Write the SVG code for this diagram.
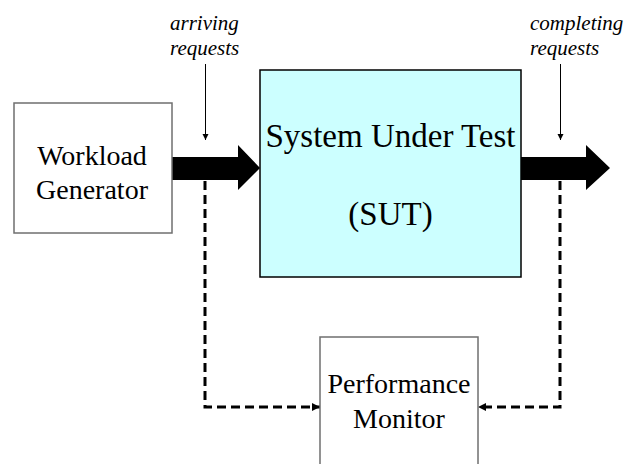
<svg xmlns="http://www.w3.org/2000/svg" width="637" height="464" viewBox="0 0 637 464">
  <style>
    .box { fill: #ffffff; stroke: #6f6f6f; stroke-width: 1.5; }
    .sut { fill: #ccffff; stroke: #000000; stroke-width: 1.5; }
    .label { font-family: "Liberation Serif", "Times New Roman", serif; fill: #000000; }
    .big { font-size: 28px; text-anchor: middle; }
    .huge { font-size: 33px; text-anchor: middle; }
    .note { font-size: 21px; font-style: italic; }
    .thin { stroke: #000000; stroke-width: 1; fill: none; }
    .dash { stroke: #000000; stroke-width: 3; fill: none; stroke-dasharray: 9 5; }
    .flow { fill: #000000; }
  </style>
  <defs>
    <marker id="tip" viewBox="0 0 10 10" refX="10" refY="5" markerWidth="6" markerHeight="8" markerUnits="userSpaceOnUse" orient="auto">
      <path d="M0,0 L10,5 L0,10 Z" fill="#000000"/>
    </marker>
    <marker id="dtip" viewBox="0 0 10 10" refX="10" refY="5" markerWidth="9" markerHeight="8" markerUnits="userSpaceOnUse" orient="auto">
      <path d="M0,0 L10,5 L0,10 Z" fill="#000000"/>
    </marker>
  </defs>

  <g id="connectors">
    <!-- request flow into and out of the system -->
    <polygon class="flow" points="172,157 238,157 238,145 260,168 238,190 238,180 172,180"/>
    <polygon class="flow" points="521,157 586,157 586,145 610,168 586,190 586,180 521,180"/>
    <!-- measurement points -->
    <line class="thin" x1="205.5" y1="64" x2="205.5" y2="140" marker-end="url(#tip)"/>
    <line class="thin" x1="560.5" y1="64" x2="560.5" y2="140" marker-end="url(#tip)"/>
    <!-- taps to the monitor -->
    <path class="dash" d="M205,181 V407 H320" marker-end="url(#dtip)"/>
    <path class="dash" d="M560,181 V407 H478" marker-end="url(#dtip)"/>
  </g>

  <g id="workload-generator">
    <rect class="box" x="14" y="103" width="158" height="130"/>
    <text class="label big" x="92" y="165">Workload</text>
    <text class="label big" x="92" y="199">Generator</text>
  </g>

  <g id="sut">
    <rect class="sut" x="260" y="70" width="261" height="207"/>
    <text class="label huge" x="390.5" y="147">System Under Test</text>
    <text class="label huge" x="390.5" y="225">(SUT)</text>
  </g>

  <g id="performance-monitor">
    <rect class="box" x="320" y="337" width="158" height="140"/>
    <text class="label big" x="399" y="393">Performance</text>
    <text class="label big" x="399" y="428">Monitor</text>
  </g>

  <g id="notes">
    <text class="label note" x="170" y="30">arriving</text>
    <text class="label note" x="170" y="55">requests</text>
    <text class="label note" x="530" y="30">completing</text>
    <text class="label note" x="530" y="55">requests</text>
  </g>
</svg>
